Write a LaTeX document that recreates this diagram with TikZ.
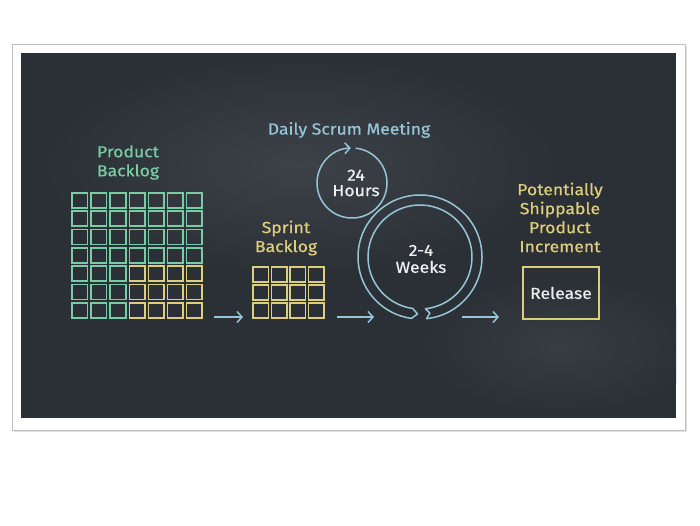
\documentclass[tikz,border=0pt]{standalone}
\usepackage{fontspec}
\setmainfont{Fira Sans}[FakeStretch=1.1, FakeBold=0.5]
\usetikzlibrary{arrows.meta,calc}
\definecolor{board}{RGB}{42,48,54}
\definecolor{boardlight}{RGB}{60,66,72}
\definecolor{chalkgreen}{RGB}{120,205,165}
\definecolor{chalkyellow}{RGB}{222,205,125}
\definecolor{chalkblue}{RGB}{150,198,214}
\definecolor{chalkwhite}{RGB}{238,240,240}
\begin{document}
\begin{tikzpicture}[x=1pt,y=1pt,
  cellg/.style={draw=chalkgreen, line width=1.6pt},
  celly/.style={draw=chalkyellow, line width=1.6pt},
  lbl/.style={font=\fontsize{16}{19}\selectfont, align=center, inner sep=0pt},
  flow/.style={draw=chalkblue, line width=1.5pt, -{Straight Barb[length=5pt,width=11pt]}},
  loopline/.style={draw=chalkblue, line width=1.5pt},
]
\useasboundingbox (0,0) rectangle (700,525);
\fill[white] (0,0) rectangle (700,525);
% frame
\fill[black!12] (14,93) rectangle (687,479);
\fill[white, draw=black!25] (12,95) rectangle (685,481);
\fill[board] (21,107) rectangle (676,472);
\begin{scope}
\clip (21,107) rectangle (676,472);
\shade[inner color=boardlight, outer color=board] (300,360) ellipse (260pt and 110pt);
\shade[inner color=boardlight!70!board, outer color=board] (560,180) ellipse (140pt and 70pt);
\end{scope}
% product backlog grid
\foreach \i in {0,...,6}{
  \foreach \j in {0,...,3}{
    \draw[cellg] ({72+19.1*\i},{332-18.3*\j}) rectangle ++(15.5,-15);
  }
}
\foreach \i in {0,...,2}{
  \foreach \j in {4,...,6}{
    \draw[cellg] ({72+19.1*\i},{332-18.3*\j}) rectangle ++(15.5,-15);
  }
}
\foreach \i in {3,...,6}{
  \foreach \j in {4,...,6}{
    \draw[celly] ({72+19.1*\i},{332-18.3*\j}) rectangle ++(15.5,-15);
  }
}
% sprint backlog grid
\foreach \i in {0,...,3}{
  \foreach \j in {0,...,2}{
    \draw[celly] ({253+18.5*\i},{258-18*\j}) rectangle ++(15.5,-15);
  }
}
% labels
\node[lbl, text=chalkgreen] (pb) at (128,362.5) {Product\\Backlog};
\node[lbl, text=chalkblue] (dsm) at (349,395) {Daily Scrum Meeting};
\node[lbl, text=chalkwhite, font=\fontsize{16}{15.5}\selectfont] (hrs) at (356,342) {24\\Hours};
\node[lbl, text=chalkyellow] (sb) at (286,287) {Sprint\\Backlog};
\node[lbl, text=chalkwhite, font=\fontsize{16}{17}\selectfont] (wk) at (421,266) {2-4\\Weeks};
\node[lbl, text=chalkyellow] (psi) at (560,307.5) {Potentially\\Shippable\\Product\\Increment};
\node[draw=chalkyellow, line width=1.6pt, minimum width=76pt, minimum height=52pt,
      text=chalkwhite, font=\fontsize{16}{17}\selectfont, inner sep=0pt] (release) at (561,232) {Release};
% flow arrows
\coordinate (a1s) at (214,208); \coordinate (a1e) at (243,208);
\coordinate (a2s) at (337,208); \coordinate (a2e) at (374,208);
\coordinate (a3s) at (462,208); \coordinate (a3e) at (499,208);
\draw[flow] (a1s) -- (a1e);
\draw[flow] (a2s) -- (a2e);
\draw[flow] (a3s) -- (a3e);
% daily loop
\coordinate (dc) at (352,342);
\draw[flow] (dc) ++(84:35pt) arc[start angle=84, end angle=-268, radius=35pt];
% sprint loop (ring arrow)
\coordinate (sc) at (420,268);
\draw[loopline, line join=round]
  ($(sc)+(-84:62pt)$) arc[start angle=-84, end angle=262, radius=62pt]
  -- ($(sc)+(267.5:57pt)$)
  -- ($(sc)+(262:52pt)$) arc[start angle=262, end angle=-84, radius=52pt]
  -- ($(sc)+(-80:57pt)$) -- cycle;
\end{tikzpicture}
\end{document}
